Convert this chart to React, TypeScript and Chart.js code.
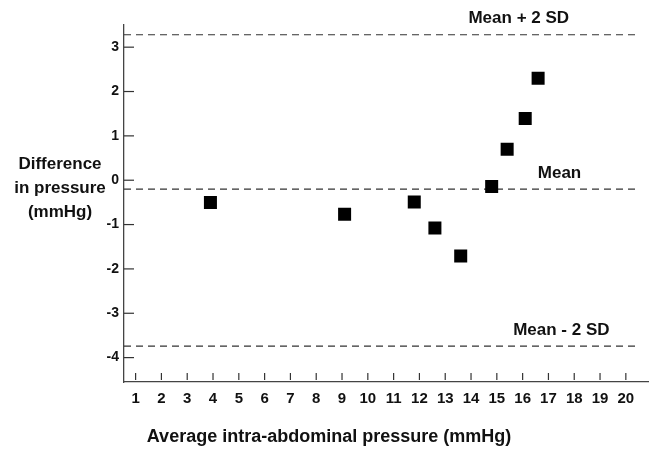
import React, { useEffect, useRef } from "react";
import { Chart, registerables } from "chart.js";

Chart.register(...registerables);

// Data
const avgPressure = [3.9, 9.1, 11.8, 12.6, 13.6, 14.8, 15.4, 16.1, 16.6];
const diffPressure = [-0.5, -0.77, -0.49, -1.08, -1.71, -0.14, 0.7, 1.39, 2.3];
const xTickValues = [1, 2, 3, 4, 5, 6, 7, 8, 9, 10, 11, 12, 13, 14, 15, 16, 17, 18, 19, 20];
const yTickValues = [-4, -3, -2, -1, 0, 1, 2, 3];
const refValues = [3.28, -0.2, -3.74];
const refLabels = ["Mean + 2 SD", "Mean", "Mean - 2 SD"];
const refLabelX = [15.85, 17.43, 17.5];
const refLineEndX = 20.5;
const yTitleLines = ["Difference", "in pressure", "(mmHg)"];
const xTitle = "Average intra-abdominal pressure (mmHg)";

const FONT = "'Liberation Sans', Arial, Helvetica, sans-serif";

const overlayPlugin = {
  id: "overlay",
  beforeDatasetsDraw(chart: any) {
    const { ctx, chartArea, scales } = chart;
    const xs = scales.x;
    const ys = scales.y;
    ctx.save();
    // reference dashed lines
    ctx.strokeStyle = "#333";
    ctx.lineWidth = 1.2;
    ctx.setLineDash([7, 5]);
    const xEnd = xs.getPixelForValue(refLineEndX);
    refValues.forEach((v) => {
      const y = ys.getPixelForValue(v);
      ctx.beginPath();
      ctx.moveTo(chartArea.left, y);
      ctx.lineTo(xEnd, y);
      ctx.stroke();
    });
    ctx.setLineDash([]);
    // inward tick marks
    ctx.strokeStyle = "#333";
    ctx.lineWidth = 1.2;
    xTickValues.forEach((t) => {
      const x = xs.getPixelForValue(t);
      ctx.beginPath();
      ctx.moveTo(x, chartArea.bottom - 2);
      ctx.lineTo(x, chartArea.bottom - 9);
      ctx.stroke();
    });
    yTickValues.forEach((t) => {
      const y = ys.getPixelForValue(t);
      ctx.beginPath();
      ctx.moveTo(chartArea.left, y);
      ctx.lineTo(chartArea.left + 10, y);
      ctx.stroke();
    });
    ctx.restore();
  },
  afterDraw(chart: any) {
    const { ctx, chartArea, scales, width } = chart;
    const xs = scales.x;
    const ys = scales.y;
    ctx.save();
    ctx.fillStyle = "#111";
    ctx.font = `bold 17px ${FONT}`;
    ctx.textAlign = "center";
    ctx.textBaseline = "middle";
    refValues.forEach((v, i) => {
      ctx.fillText(refLabels[i], xs.getPixelForValue(refLabelX[i]), ys.getPixelForValue(v) - 16);
    });
    // y title (horizontal, three lines)
    const y0 = ys.getPixelForValue(0);
    ctx.textBaseline = "alphabetic";
    yTitleLines.forEach((line, i) => {
      ctx.fillText(line, chartArea.left - 64, y0 - 11 + i * 24);
    });
    // x title
    ctx.font = `bold 18px ${FONT}`;
    ctx.textBaseline = "middle";
    ctx.fillText(xTitle, width / 2, chartArea.bottom + 55);
    ctx.restore();
  },
};

export default function App() {
  const canvasRef = useRef<HTMLCanvasElement | null>(null);

  useEffect(() => {
    if (!canvasRef.current) return;
    const chart = new Chart(canvasRef.current, {
      type: "scatter",
      data: {
        datasets: [
          {
            data: avgPressure.map((x, i) => ({ x, y: diffPressure[i] })),
            pointStyle: "rect",
            pointRadius: 9.2,
            pointHoverRadius: 9.2,
            backgroundColor: "#000",
            borderColor: "#000",
            borderWidth: 0,
          },
        ],
      },
      options: {
        animation: false,
        responsive: false,
        maintainAspectRatio: false,
        events: [],
        layout: { padding: { top: 25, right: 8, left: 0, bottom: 0 } },
        plugins: { legend: { display: false }, tooltip: { enabled: false } },
        scales: {
          x: {
            type: "linear",
            min: 0.55,
            max: 20.89,
            afterBuildTicks: (s: any) => {
              s.ticks = xTickValues.map((v) => ({ value: v }));
            },
            afterFit: (s: any) => {
              s.height = 74;
            },
            grid: { display: true, drawOnChartArea: false, drawTicks: false },
            border: { display: true, color: "#444", width: 1.3 },
            ticks: {
              autoSkip: false,
              maxRotation: 0,
              padding: 8,
              color: "#111",
              font: { family: FONT, size: 15, weight: "bold" },
            },
          },
          y: {
            type: "linear",
            min: -4.55,
            max: 3.5,
            afterBuildTicks: (s: any) => {
              s.ticks = yTickValues.map((v) => ({ value: v }));
            },
            afterFit: (s: any) => {
              s.width = 124;
            },
            grid: { display: true, drawOnChartArea: false, drawTicks: false },
            border: { display: true, color: "#444", width: 1.3 },
            ticks: {
              padding: 5,
              color: "#111",
              font: { family: FONT, size: 14, weight: "bold" },
            },
          },
        },
      },
      plugins: [overlayPlugin],
    } as any);
    return () => chart.destroy();
  }, []);

  return (
    <div style={{ position: "fixed", left: 0, top: 0, width: 658, height: 456, background: "#fff" }}>
      <canvas ref={canvasRef} width={658} height={456} style={{ width: 658, height: 456 }} />
    </div>
  );
}
